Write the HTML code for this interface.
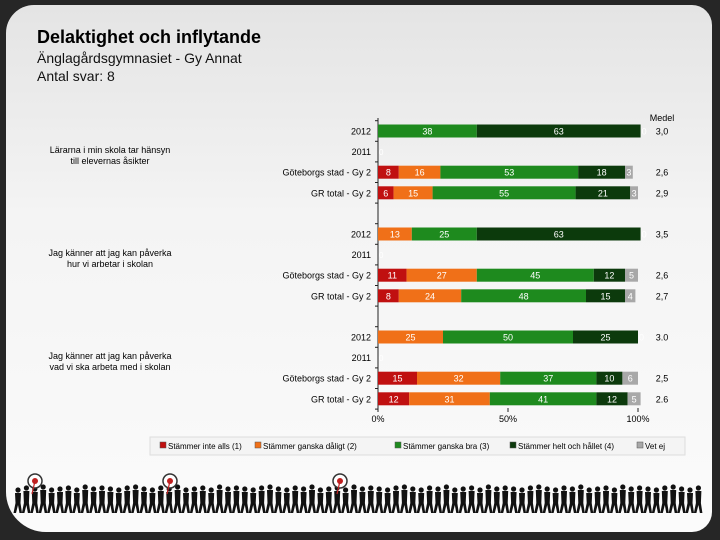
<!DOCTYPE html>
<html><head><meta charset="utf-8"><style>
html,body{margin:0;padding:0;background:#262626;width:720px;height:540px;overflow:hidden}
#card{position:absolute;left:6px;top:5px;width:706px;height:527px;border-radius:28px 20px 20px 40px;background:linear-gradient(#e4e4e4,#f4f4f4 40%,#fbfbfb);}
svg{position:absolute;left:0;top:0}
text{font-family:"Liberation Sans",sans-serif}
</style></head><body>
<div id="card"></div>
<svg id="c" width="720" height="540">
<text x="37" y="43" font-size="18" font-weight="bold" fill="#000">Delaktighet och inflytande</text>
<text x="37" y="63" font-size="14" fill="#111">Änglagårdsgymnasiet - Gy Annat</text>
<text x="37" y="81" font-size="14" fill="#111">Antal svar: 8</text>
<text x="662" y="121" font-size="9" text-anchor="middle">Medel</text>
</svg>
<script>
const questions=[["Lärarna i min skola tar hänsyn","till elevernas åsikter"],["Jag känner att jag kan påverka","hur vi arbetar i skolan"],["Jag känner att jag kan påverka","vad vi ska arbeta med i skolan"]];
const rowLabels=["2012","2011","Göteborgs stad  - Gy 2","GR total - Gy 2"];
const q1=[[0,0,38,63,0],null,[8,16,53,18,3],[6,15,55,21,3]];
const q2=[[0,13,25,63,0],null,[11,27,45,12,5],[8,24,48,15,4]];
const q3=[[0,25,50,25,0],null,[15,32,37,10,6],[12,31,41,12,5]];
const means1=["3,0","","2,6","2,9"];
const means2=["3,5","","2,6","2,7"];
const means3=["3.0","","2,5","2.6"];
const categories=["Stämmer inte alls (1)","Stämmer ganska dåligt (2)","Stämmer ganska bra (3)","Stämmer helt och hållet (4)","Vet ej"];
const colors=["#c01010","#f07018","#1e8a1e","#0c3a0c","#a8a8a8"];
const tickLabels=["0%","50%","100%"];
const ticks=[0,50,100];
const groups=[q1,q2,q3],means=[means1,means2,means3];
const svg=document.getElementById('c');const NS="http://www.w3.org/2000/svg";
const X0=378,W=260;const xs=v=>X0+v/100*W;
const groupTop=[131,234,337],rowGap=20.6,bh=13;
function el(t,a,txt){const e=document.createElementNS(NS,t);for(const k in a)e.setAttribute(k,a[k]);if(txt!=null)e.textContent=txt;svg.appendChild(e);return e;}
const ax=el('line',{x1:X0,y1:118,x2:X0,y2:410,stroke:'#222','stroke-width':1});

groups.forEach((g,gi)=>{
 const ql=el('text',{x:110,y:groupTop[gi]+22,'font-size':9,'text-anchor':'middle'});
 
 questions[gi].forEach((s,i)=>{const ts=document.createElementNS(NS,'tspan');ts.setAttribute('x',110);ts.setAttribute('dy',i?11:0);ts.textContent=s;ql.appendChild(ts);});
 for(let k=-1;k<4;k++){const ty=groupTop[gi]+k*rowGap+rowGap/2;el('line',{x1:X0-3,y1:ty,x2:X0,y2:ty,stroke:'#222'});}
 g.forEach((vals,ri)=>{
  const cy=groupTop[gi]+ri*rowGap;
  const rl=el('text',{x:371,y:cy+3.5,'font-size':9,'text-anchor':'end'},rowLabels[ri]);
  
  if(!vals){el('text',{x:X0+1,y:cy+3.5,'font-size':8,fill:'#fff'},'0');return;}
  let acc=0;
  vals.forEach((v,si)=>{
   const x=xs(acc);const w=xs(acc+v)-x;acc+=v;
   const r=el('rect',{x:x,y:cy-bh/2,width:Math.max(w,0),height:bh,fill:colors[si]});
   
   if(v>0||si===0||si===4){const t=el('text',{x:v>0?x+w/2:x+1,y:cy+3.5,'font-size':9,fill:'#fff','text-anchor':v>0?'middle':'start'},v);
    }
  });
  const m=el('text',{x:662,y:cy+3.5,'font-size':9,'text-anchor':'middle'},means[gi][ri]);
  
 });
});
ticks.forEach((t,i)=>{el('line',{x1:xs(t),y1:408,x2:xs(t),y2:412,stroke:'#222'});
 const tl=el('text',{x:xs(t),y:422,'font-size':9,'text-anchor':'middle'},tickLabels[i]);
 });
const lg=el('rect',{x:150,y:437,width:535,height:18,fill:'#f4f4f4',stroke:'#ddd'});

const lx=[168,263,403,518,645];
categories.forEach((c,i)=>{el('rect',{x:lx[i]-8,y:442,width:6,height:6,fill:colors[i],stroke:'#555','stroke-width':0.5});
 const t=el('text',{x:lx[i],y:449,'font-size':8},c);});
// decorative walking silhouettes
const figs=el('g',{fill:'#111'});
const hs=[0,2,1,3,0,1,2,0,3,1,2,1,0,2,3,1];
for(let i=0;i<82;i++){const x=18+i*8.4;const h=22+hs[i%16];
 const g=document.createElementNS(NS,'g');
 const head=document.createElementNS(NS,'circle');head.setAttribute('cx',x);head.setAttribute('cy',512-h);head.setAttribute('r',2.6);g.appendChild(head);
 const body=document.createElementNS(NS,'path');body.setAttribute('d',`M${x-3} ${515-h} L${x+3} ${515-h} L${x+2.5} ${503} L${x+4} ${513} L${x+1.5} ${513} L${x} ${505} L${x-2} ${513} L${x-4.5} ${513} L${x-2.5} ${503} Z`);g.appendChild(body);figs.appendChild(g);}
[35,170,340].forEach(x=>{const t=el('circle',{cx:x,cy:481,r:7,fill:'#fff',stroke:'#333','stroke-width':1.5});
 el('circle',{cx:x,cy:481,r:3,fill:'#c02020'});el('line',{x1:x,y1:481,x2:x-3,y2:494,stroke:'#c02020','stroke-width':1.2});});
</script>
</body></html>
